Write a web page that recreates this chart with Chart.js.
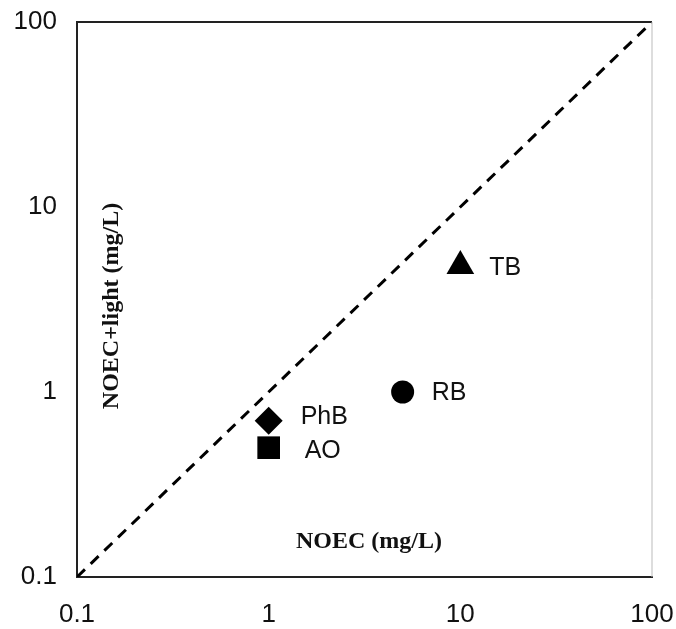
<!DOCTYPE html>
<html><head><meta charset="utf-8">
<script src="https://cdn.jsdelivr.net/npm/chart.js@4/dist/chart.umd.min.js"></script>
<style>html,body{margin:0;padding:0;background:#fff}#wrap{width:676px;height:629px}</style>
</head><body><div id="wrap"><canvas id="c" width="676" height="629"></canvas></div>
<script>
const compounds = ["TB", "RB", "PhB", "AO"];
const noec = [10, 5, 1, 1];
const noecLight = [4.8, 1, 0.7, 0.5];
const markers = ["triangle", "circle", "rectRot", "rect"];
const tickValues = [0.1, 1, 10, 100];
const tickLabels = ["0.1", "1", "10", "100"];
const lineX = [0.1, 100];
const lineY = [0.1, 100];
const xTitle = "NOEC (mg/L)";
const yTitle = "NOEC+light (mg/L)";

const markerSizes = {triangle: 16, circle: 11.5, rectRot: 14, rect: 16};
const labelOffsets = {TB: [29, 2], RB: [29, 1], PhB: [32, -4], AO: [36, 3]};

const pointDatasets = compounds.map((name, i) => ({
  type: 'scatter',
  label: name,
  data: [{x: noec[i], y: noecLight[i]}],
  pointStyle: markers[i],
  pointRadius: markerSizes[markers[i]],
  pointBackgroundColor: '#000',
  pointBorderColor: '#000',
  borderWidth: 0
}));

const overlay = {
  id: 'overlay',
  afterDatasetsDraw(chart) {
    const ctx = chart.ctx, a = chart.chartArea;
    ctx.save();
    ctx.strokeStyle = '#222'; ctx.lineWidth = 2;
    ctx.beginPath(); ctx.moveTo(a.left, a.top); ctx.lineTo(a.right, a.top); ctx.stroke();
    ctx.strokeStyle = '#bbb'; ctx.lineWidth = 1;
    ctx.beginPath(); ctx.moveTo(a.right, a.top); ctx.lineTo(a.right, a.bottom); ctx.stroke();
    ctx.fillStyle = '#111';
    ctx.font = '25px "Liberation Sans", Arial, sans-serif';
    ctx.textBaseline = 'middle'; ctx.textAlign = 'left';
    compounds.forEach((name, i) => {
      const meta = chart.getDatasetMeta(i + 1);
      const p = meta.data[0];
      const off = labelOffsets[name];
      ctx.fillText(name, p.x + off[0], p.y + off[1]);
    });
    ctx.textAlign = 'center';
    ctx.font = 'bold 24px "Liberation Serif", "Times New Roman", serif';
    ctx.fillText(xTitle, 369, 542);
    ctx.translate(112, 306);
    ctx.rotate(-Math.PI / 2);
    ctx.fillText(yTitle, 0, 0);
    ctx.restore();
  }
};

const tickFont = {family: '"Liberation Sans", Arial, sans-serif', size: 26};

new Chart(document.getElementById('c'), {
  data: {
    datasets: [{
      type: 'line',
      label: 'y=x',
      data: lineX.map((x, i) => ({x, y: lineY[i]})),
      borderColor: '#000',
      borderWidth: 3,
      borderDash: [11, 8],
      pointRadius: 0,
      fill: false
    }, ...pointDatasets]
  },
  options: {
    responsive: false,
    animation: false,
    layout: {padding: {left: 0, top: 22, right: 24, bottom: 0}},
    plugins: {legend: {display: false}, tooltip: {enabled: false}},
    scales: {
      x: {
        type: 'logarithmic', min: 0.1, max: 100,
        afterBuildTicks: s => { s.ticks = tickValues.map(v => ({value: v})); },
        afterFit: s => { s.height = 52; s.paddingLeft = 0; s.paddingRight = 0; },
        grid: {display: false, drawTicks: false},
        border: {display: true, color: '#222', width: 2},
        ticks: {color: '#111', font: tickFont, padding: 22, maxRotation: 0,
          callback: (v) => tickLabels[tickValues.indexOf(v)] ?? ''}
      },
      y: {
        type: 'logarithmic', min: 0.1, max: 100,
        afterBuildTicks: s => { s.ticks = tickValues.map(v => ({value: v})); },
        afterFit: s => { s.width = 77; s.paddingTop = 0; s.paddingBottom = 0; },
        grid: {display: false, drawTicks: false},
        border: {display: true, color: '#222', width: 2},
        ticks: {color: '#111', font: tickFont, padding: 20,
          callback: (v) => tickLabels[tickValues.indexOf(v)] ?? ''}
      }
    }
  },
  plugins: [overlay]
});
</script>
</body></html>
